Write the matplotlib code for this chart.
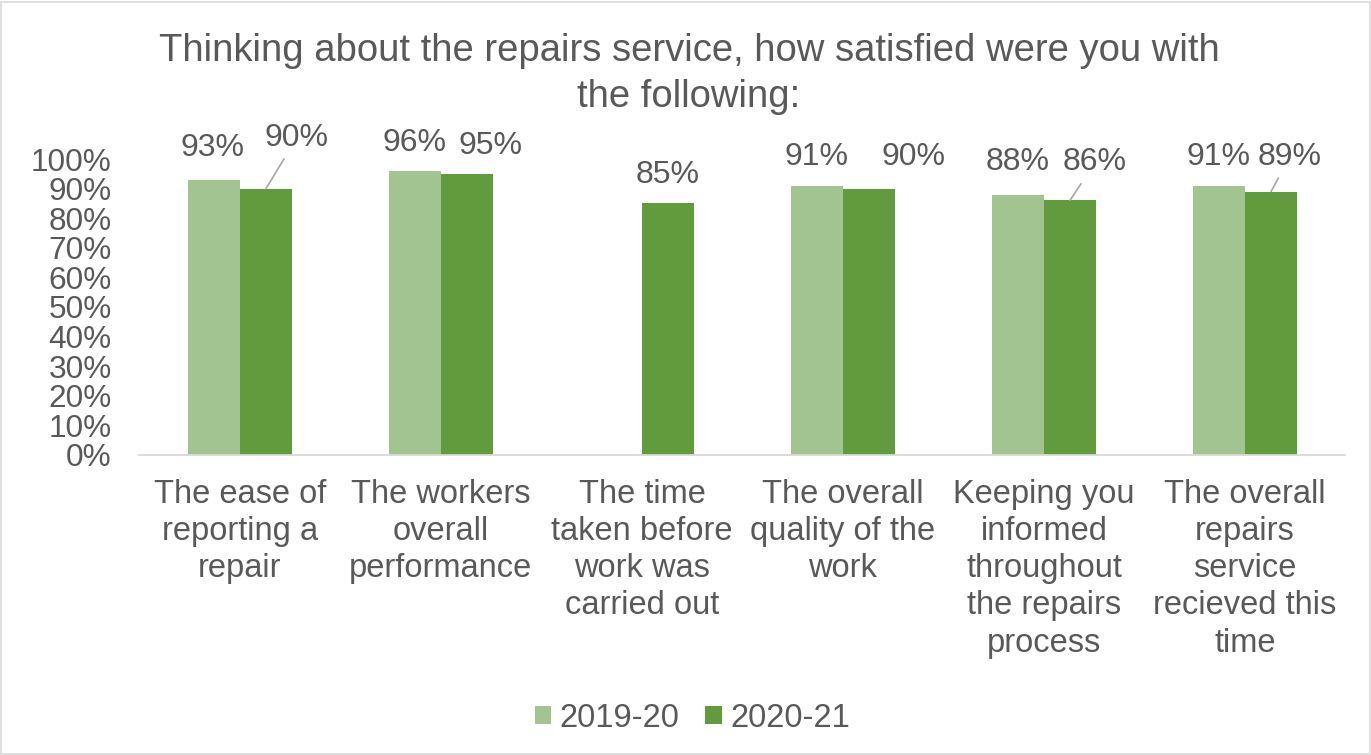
import matplotlib
matplotlib.use("Agg")
import matplotlib.pyplot as plt
import numpy as np
from matplotlib.patches import Rectangle

categories = [
    "The ease of\nreporting a\nrepair",
    "The workers\noverall\nperformance",
    "The time\ntaken before\nwork was\ncarried out",
    "The overall\nquality of the\nwork",
    "Keeping you\ninformed\nthroughout\nthe repairs\nprocess",
    "The overall\nrepairs\nservice\nrecieved this\ntime",
]
series_names = ["2019-20", "2020-21"]
values_2019_20 = [0.93, 0.96, np.nan, 0.91, 0.88, 0.91]
values_2020_21 = [0.90, 0.95, 0.85, 0.90, 0.86, 0.89]
yticks = [0, 0.1, 0.2, 0.3, 0.4, 0.5, 0.6, 0.7, 0.8, 0.9, 1.0]
title = "Thinking about the repairs service, how satisfied were you with\nthe following:"

# label offsets in pixels (dx, dy) and whether a leader line is drawn
offsets_a = [(-1, 32), (0, 28), (0, 28), (0, 29), (0, 33), (0, 29)]
offsets_b = [(31, 51), (24, 28), (0, 28), (44, 32), (25, 38), (19, 35)]
leader_b = [True, False, False, False, True, True]

light = "#A1C490"
dark = "#629A3E"
txt = "#595959"
grid_c = "#D9D9D9"

plt.rcParams['font.family'] = ['Liberation Sans', 'DejaVu Sans']

fig = plt.figure(figsize=(13.71, 7.55), dpi=100)
fig.patches.append(Rectangle((0.001, 0.001), 0.998, 0.997, transform=fig.transFigure,
                             fill=False, edgecolor=grid_c, linewidth=1.2))
ax = fig.add_axes([0.1017, 0.3974, 0.8797, 0.392])

x = np.arange(len(categories))
w = 0.259
bars_a = ax.bar(x - w / 2, values_2019_20, w, color=light, label=series_names[0])
bars_b = ax.bar(x + w / 2, values_2020_21, w, color=dark, label=series_names[1])

ax.set_xlim(-0.5, len(categories) - 0.5)
ax.set_ylim(0, 1)
ax.set_yticks(yticks)
ax.set_yticklabels([f"{int(round(t*100))}%" for t in yticks], fontsize=22.7, color=txt)
ax.tick_params(axis='y', length=0, pad=20)
ax.set_xticks(x)
ax.set_xticklabels(categories, fontsize=23.5, color=txt, linespacing=1.26, va='top')
ax.tick_params(axis='x', length=0, pad=17)
for s in ['top', 'right', 'left']:
    ax.spines[s].set_visible(False)
ax.spines['bottom'].set_color(grid_c)
ax.spines['bottom'].set_linewidth(1.3)

def label(xc, v, off, lead):
    if np.isnan(v):
        return
    ap = dict(arrowstyle='-', color='#A6A6A6', lw=1.2, shrinkA=3, shrinkB=0) if lead else None
    ax.annotate(f"{int(round(v*100))}%", xy=(xc, v), xytext=off, textcoords='offset pixels',
                ha='center', va='center', fontsize=23, color=txt, arrowprops=ap,
                annotation_clip=False)

for i in range(len(categories)):
    label(x[i] - w / 2, values_2019_20[i], offsets_a[i], False)
    label(x[i] + w / 2, values_2020_21[i], offsets_b[i], leader_b[i])

fig.text(0.5025, 0.902, title, ha='center', va='center', fontsize=27.5, color=txt, linespacing=1.38)

fig.legend(handles=[bars_a, bars_b], labels=series_names, loc='center', bbox_to_anchor=(0.505, 0.049),
           ncol=2, frameon=False, fontsize=23.5, labelcolor=txt, handlelength=0.5, handleheight=0.5,
           handletextpad=0.25, columnspacing=0.8)

fig.savefig("out.png", dpi=100)
